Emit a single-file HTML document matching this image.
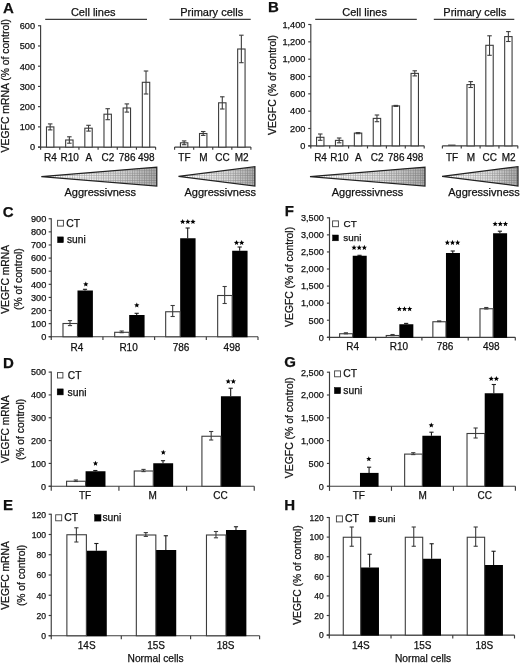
<!DOCTYPE html>
<html><head><meta charset="utf-8"><title>Figure</title>
<style>
html,body{margin:0;padding:0;background:#fff;}
body{width:520px;height:667px;overflow:hidden;font-family:"Liberation Sans",sans-serif;}
svg{display:block}
svg text{font-family:"Liberation Sans",sans-serif;fill:#111;stroke:#111;stroke-width:0.25px}
</style></head><body>
<svg width="520" height="667" viewBox="0 0 520 667">
<defs>
<linearGradient id="tg" x1="0" y1="0" x2="1" y2="0">
<stop offset="0" stop-color="#ffffff"/><stop offset="0.3" stop-color="#f6f6f6"/><stop offset="0.65" stop-color="#dcdcdc"/><stop offset="1" stop-color="#aaaaaa"/>
</linearGradient>
<pattern id="hatch" width="2.4" height="2.4" patternUnits="userSpaceOnUse">
<rect width="2.4" height="2.4" fill="none"/><path d="M0 0.3H2.4M0.3 0V2.4" stroke="#333" stroke-width="0.6" opacity="0.42"/>
</pattern>
</defs>
<rect width="520" height="667" fill="#fff"/>
<g style="opacity:0.999">
<text x="3.10" y="13.20" font-size="15" text-anchor="start" font-weight="bold">A</text>
<text x="268.00" y="12.10" font-size="15" text-anchor="start" font-weight="bold">B</text>
<text x="2.80" y="216.80" font-size="15" text-anchor="start" font-weight="bold">C</text>
<text x="284.70" y="216.10" font-size="15" text-anchor="start" font-weight="bold">F</text>
<text x="2.90" y="367.50" font-size="15" text-anchor="start" font-weight="bold">D</text>
<text x="284.30" y="367.20" font-size="15" text-anchor="start" font-weight="bold">G</text>
<text x="2.90" y="510.00" font-size="15" text-anchor="start" font-weight="bold">E</text>
<text x="284.30" y="510.10" font-size="15" text-anchor="start" font-weight="bold">H</text>
<line x1="40.60" y1="25.25" x2="40.60" y2="147.60" stroke="#3c3c3c" stroke-width="1.15"/>
<line x1="38.00" y1="147.10" x2="40.60" y2="147.10" stroke="#3c3c3c" stroke-width="1.15"/>
<text x="35.00" y="150.40" font-size="9.2" text-anchor="end" font-weight="normal">0</text>
<line x1="38.00" y1="126.88" x2="40.60" y2="126.88" stroke="#3c3c3c" stroke-width="1.15"/>
<text x="35.00" y="130.18" font-size="9.2" text-anchor="end" font-weight="normal">100</text>
<line x1="38.00" y1="106.65" x2="40.60" y2="106.65" stroke="#3c3c3c" stroke-width="1.15"/>
<text x="35.00" y="109.95" font-size="9.2" text-anchor="end" font-weight="normal">200</text>
<line x1="38.00" y1="86.43" x2="40.60" y2="86.43" stroke="#3c3c3c" stroke-width="1.15"/>
<text x="35.00" y="89.73" font-size="9.2" text-anchor="end" font-weight="normal">300</text>
<line x1="38.00" y1="66.20" x2="40.60" y2="66.20" stroke="#3c3c3c" stroke-width="1.15"/>
<text x="35.00" y="69.50" font-size="9.2" text-anchor="end" font-weight="normal">400</text>
<line x1="38.00" y1="45.97" x2="40.60" y2="45.97" stroke="#3c3c3c" stroke-width="1.15"/>
<text x="35.00" y="49.27" font-size="9.2" text-anchor="end" font-weight="normal">500</text>
<line x1="38.00" y1="25.75" x2="40.60" y2="25.75" stroke="#3c3c3c" stroke-width="1.15"/>
<text x="35.00" y="29.05" font-size="9.2" text-anchor="end" font-weight="normal">600</text>
<line x1="38.00" y1="147.10" x2="155.60" y2="147.10" stroke="#3c3c3c" stroke-width="1.15"/>
<line x1="40.60" y1="147.10" x2="40.60" y2="149.70" stroke="#3c3c3c" stroke-width="1.15"/>
<line x1="59.77" y1="147.10" x2="59.77" y2="149.70" stroke="#3c3c3c" stroke-width="1.15"/>
<line x1="78.93" y1="147.10" x2="78.93" y2="149.70" stroke="#3c3c3c" stroke-width="1.15"/>
<line x1="98.10" y1="147.10" x2="98.10" y2="149.70" stroke="#3c3c3c" stroke-width="1.15"/>
<line x1="117.27" y1="147.10" x2="117.27" y2="149.70" stroke="#3c3c3c" stroke-width="1.15"/>
<line x1="136.43" y1="147.10" x2="136.43" y2="149.70" stroke="#3c3c3c" stroke-width="1.15"/>
<line x1="155.60" y1="147.10" x2="155.60" y2="149.70" stroke="#3c3c3c" stroke-width="1.15"/>
<line x1="174.60" y1="147.10" x2="250.90" y2="147.10" stroke="#3c3c3c" stroke-width="1.15"/>
<line x1="174.60" y1="147.10" x2="174.60" y2="149.70" stroke="#3c3c3c" stroke-width="1.15"/>
<line x1="193.68" y1="147.10" x2="193.68" y2="149.70" stroke="#3c3c3c" stroke-width="1.15"/>
<line x1="212.75" y1="147.10" x2="212.75" y2="149.70" stroke="#3c3c3c" stroke-width="1.15"/>
<line x1="231.82" y1="147.10" x2="231.82" y2="149.70" stroke="#3c3c3c" stroke-width="1.15"/>
<line x1="250.90" y1="147.10" x2="250.90" y2="149.70" stroke="#3c3c3c" stroke-width="1.15"/>
<rect x="46.48" y="126.90" width="7.40" height="20.20" fill="#fff" stroke="#3c3c3c" stroke-width="1.1"/>
<line x1="50.18" y1="123.90" x2="50.18" y2="129.90" stroke="#3c3c3c" stroke-width="1.1"/>
<line x1="47.93" y1="123.90" x2="52.43" y2="123.90" stroke="#3c3c3c" stroke-width="1.1"/>
<line x1="47.93" y1="129.90" x2="52.43" y2="129.90" stroke="#3c3c3c" stroke-width="1.1"/>
<text x="50.48" y="161.10" font-size="10" text-anchor="middle" font-weight="normal">R4</text>
<rect x="65.65" y="140.00" width="7.40" height="7.10" fill="#fff" stroke="#3c3c3c" stroke-width="1.1"/>
<line x1="69.35" y1="136.80" x2="69.35" y2="143.20" stroke="#3c3c3c" stroke-width="1.1"/>
<line x1="67.10" y1="136.80" x2="71.60" y2="136.80" stroke="#3c3c3c" stroke-width="1.1"/>
<line x1="67.10" y1="143.20" x2="71.60" y2="143.20" stroke="#3c3c3c" stroke-width="1.1"/>
<text x="69.65" y="161.10" font-size="10" text-anchor="middle" font-weight="normal">R10</text>
<rect x="84.82" y="128.20" width="7.40" height="18.90" fill="#fff" stroke="#3c3c3c" stroke-width="1.1"/>
<line x1="88.52" y1="125.30" x2="88.52" y2="131.10" stroke="#3c3c3c" stroke-width="1.1"/>
<line x1="86.27" y1="125.30" x2="90.77" y2="125.30" stroke="#3c3c3c" stroke-width="1.1"/>
<line x1="86.27" y1="131.10" x2="90.77" y2="131.10" stroke="#3c3c3c" stroke-width="1.1"/>
<text x="88.82" y="161.10" font-size="10" text-anchor="middle" font-weight="normal">A</text>
<rect x="103.98" y="114.20" width="7.40" height="32.90" fill="#fff" stroke="#3c3c3c" stroke-width="1.1"/>
<line x1="107.68" y1="108.70" x2="107.68" y2="119.70" stroke="#3c3c3c" stroke-width="1.1"/>
<line x1="105.43" y1="108.70" x2="109.93" y2="108.70" stroke="#3c3c3c" stroke-width="1.1"/>
<line x1="105.43" y1="119.70" x2="109.93" y2="119.70" stroke="#3c3c3c" stroke-width="1.1"/>
<text x="107.98" y="161.10" font-size="10" text-anchor="middle" font-weight="normal">C2</text>
<rect x="123.15" y="108.00" width="7.40" height="39.10" fill="#fff" stroke="#3c3c3c" stroke-width="1.1"/>
<line x1="126.85" y1="103.90" x2="126.85" y2="112.10" stroke="#3c3c3c" stroke-width="1.1"/>
<line x1="124.60" y1="103.90" x2="129.10" y2="103.90" stroke="#3c3c3c" stroke-width="1.1"/>
<line x1="124.60" y1="112.10" x2="129.10" y2="112.10" stroke="#3c3c3c" stroke-width="1.1"/>
<text x="127.15" y="161.10" font-size="10" text-anchor="middle" font-weight="normal">786</text>
<rect x="142.32" y="82.30" width="7.40" height="64.80" fill="#fff" stroke="#3c3c3c" stroke-width="1.1"/>
<line x1="146.02" y1="71.00" x2="146.02" y2="94.00" stroke="#3c3c3c" stroke-width="1.1"/>
<line x1="143.77" y1="71.00" x2="148.27" y2="71.00" stroke="#3c3c3c" stroke-width="1.1"/>
<line x1="143.77" y1="94.00" x2="148.27" y2="94.00" stroke="#3c3c3c" stroke-width="1.1"/>
<text x="146.32" y="161.10" font-size="10" text-anchor="middle" font-weight="normal">498</text>
<rect x="180.44" y="142.80" width="7.40" height="4.30" fill="#fff" stroke="#3c3c3c" stroke-width="1.1"/>
<line x1="184.14" y1="140.90" x2="184.14" y2="144.70" stroke="#3c3c3c" stroke-width="1.1"/>
<line x1="181.89" y1="140.90" x2="186.39" y2="140.90" stroke="#3c3c3c" stroke-width="1.1"/>
<line x1="181.89" y1="144.70" x2="186.39" y2="144.70" stroke="#3c3c3c" stroke-width="1.1"/>
<text x="184.44" y="161.10" font-size="10" text-anchor="middle" font-weight="normal">TF</text>
<rect x="199.51" y="133.50" width="7.40" height="13.60" fill="#fff" stroke="#3c3c3c" stroke-width="1.1"/>
<line x1="203.21" y1="131.50" x2="203.21" y2="135.40" stroke="#3c3c3c" stroke-width="1.1"/>
<line x1="200.96" y1="131.50" x2="205.46" y2="131.50" stroke="#3c3c3c" stroke-width="1.1"/>
<line x1="200.96" y1="135.40" x2="205.46" y2="135.40" stroke="#3c3c3c" stroke-width="1.1"/>
<text x="203.51" y="161.10" font-size="10" text-anchor="middle" font-weight="normal">M</text>
<rect x="218.59" y="102.80" width="7.40" height="44.30" fill="#fff" stroke="#3c3c3c" stroke-width="1.1"/>
<line x1="222.29" y1="96.80" x2="222.29" y2="109.00" stroke="#3c3c3c" stroke-width="1.1"/>
<line x1="220.04" y1="96.80" x2="224.54" y2="96.80" stroke="#3c3c3c" stroke-width="1.1"/>
<line x1="220.04" y1="109.00" x2="224.54" y2="109.00" stroke="#3c3c3c" stroke-width="1.1"/>
<text x="222.59" y="161.10" font-size="10" text-anchor="middle" font-weight="normal">CC</text>
<rect x="237.66" y="49.00" width="7.40" height="98.10" fill="#fff" stroke="#3c3c3c" stroke-width="1.1"/>
<line x1="241.36" y1="35.20" x2="241.36" y2="62.70" stroke="#3c3c3c" stroke-width="1.1"/>
<line x1="239.11" y1="35.20" x2="243.61" y2="35.20" stroke="#3c3c3c" stroke-width="1.1"/>
<line x1="239.11" y1="62.70" x2="243.61" y2="62.70" stroke="#3c3c3c" stroke-width="1.1"/>
<text x="241.66" y="161.10" font-size="10" text-anchor="middle" font-weight="normal">M2</text>
<line x1="45.20" y1="19.40" x2="147.00" y2="19.40" stroke="#3c3c3c" stroke-width="1.15"/>
<text x="93.20" y="15.60" font-size="11" text-anchor="middle" font-weight="normal">Cell lines</text>
<line x1="169.50" y1="19.40" x2="250.70" y2="19.40" stroke="#3c3c3c" stroke-width="1.15"/>
<text x="211.70" y="15.60" font-size="11" text-anchor="middle" font-weight="normal">Primary cells</text>
<text x="9.30" y="85.70" font-size="10.4" text-anchor="middle" font-weight="normal" transform="rotate(-90 9.30 85.70)">VEGFC mRNA (% of control)</text>
<polygon points="41.3,176.6 156.8,167.1 156.8,186.1" fill="url(#tg)" stroke="none"/>
<polygon points="41.3,176.6 156.8,167.1 156.8,186.1" fill="url(#hatch)" stroke="#222" stroke-width="1.2" stroke-linejoin="miter"/>
<polygon points="178.5,176.4 254.9,166.70000000000002 254.9,186.1" fill="url(#tg)" stroke="none"/>
<polygon points="178.5,176.4 254.9,166.70000000000002 254.9,186.1" fill="url(#hatch)" stroke="#222" stroke-width="1.2" stroke-linejoin="miter"/>
<text x="100.20" y="195.70" font-size="11" text-anchor="middle" font-weight="normal">Aggressivness</text>
<text x="220.30" y="195.70" font-size="11" text-anchor="middle" font-weight="normal">Aggressivness</text>
<line x1="310.80" y1="24.00" x2="310.80" y2="146.35" stroke="#3c3c3c" stroke-width="1.15"/>
<line x1="308.20" y1="145.85" x2="310.80" y2="145.85" stroke="#3c3c3c" stroke-width="1.15"/>
<text x="305.40" y="149.15" font-size="9.2" text-anchor="end" font-weight="normal">0</text>
<line x1="308.20" y1="128.51" x2="310.80" y2="128.51" stroke="#3c3c3c" stroke-width="1.15"/>
<text x="305.40" y="131.81" font-size="9.2" text-anchor="end" font-weight="normal">200</text>
<line x1="308.20" y1="111.18" x2="310.80" y2="111.18" stroke="#3c3c3c" stroke-width="1.15"/>
<text x="305.40" y="114.48" font-size="9.2" text-anchor="end" font-weight="normal">400</text>
<line x1="308.20" y1="93.84" x2="310.80" y2="93.84" stroke="#3c3c3c" stroke-width="1.15"/>
<text x="305.40" y="97.14" font-size="9.2" text-anchor="end" font-weight="normal">600</text>
<line x1="308.20" y1="76.51" x2="310.80" y2="76.51" stroke="#3c3c3c" stroke-width="1.15"/>
<text x="305.40" y="79.81" font-size="9.2" text-anchor="end" font-weight="normal">800</text>
<line x1="308.20" y1="59.17" x2="310.80" y2="59.17" stroke="#3c3c3c" stroke-width="1.15"/>
<text x="305.40" y="62.47" font-size="9.2" text-anchor="end" font-weight="normal">1,000</text>
<line x1="308.20" y1="41.84" x2="310.80" y2="41.84" stroke="#3c3c3c" stroke-width="1.15"/>
<text x="305.40" y="45.14" font-size="9.2" text-anchor="end" font-weight="normal">1,200</text>
<line x1="308.20" y1="24.50" x2="310.80" y2="24.50" stroke="#3c3c3c" stroke-width="1.15"/>
<text x="305.40" y="27.80" font-size="9.2" text-anchor="end" font-weight="normal">1,400</text>
<line x1="308.20" y1="145.85" x2="424.20" y2="145.85" stroke="#3c3c3c" stroke-width="1.15"/>
<line x1="310.80" y1="145.85" x2="310.80" y2="148.45" stroke="#3c3c3c" stroke-width="1.15"/>
<line x1="329.70" y1="145.85" x2="329.70" y2="148.45" stroke="#3c3c3c" stroke-width="1.15"/>
<line x1="348.60" y1="145.85" x2="348.60" y2="148.45" stroke="#3c3c3c" stroke-width="1.15"/>
<line x1="367.50" y1="145.85" x2="367.50" y2="148.45" stroke="#3c3c3c" stroke-width="1.15"/>
<line x1="386.40" y1="145.85" x2="386.40" y2="148.45" stroke="#3c3c3c" stroke-width="1.15"/>
<line x1="405.30" y1="145.85" x2="405.30" y2="148.45" stroke="#3c3c3c" stroke-width="1.15"/>
<line x1="424.20" y1="145.85" x2="424.20" y2="148.45" stroke="#3c3c3c" stroke-width="1.15"/>
<line x1="442.40" y1="145.85" x2="517.80" y2="145.85" stroke="#3c3c3c" stroke-width="1.15"/>
<line x1="442.40" y1="145.85" x2="442.40" y2="148.45" stroke="#3c3c3c" stroke-width="1.15"/>
<line x1="461.25" y1="145.85" x2="461.25" y2="148.45" stroke="#3c3c3c" stroke-width="1.15"/>
<line x1="480.10" y1="145.85" x2="480.10" y2="148.45" stroke="#3c3c3c" stroke-width="1.15"/>
<line x1="498.95" y1="145.85" x2="498.95" y2="148.45" stroke="#3c3c3c" stroke-width="1.15"/>
<line x1="517.80" y1="145.85" x2="517.80" y2="148.45" stroke="#3c3c3c" stroke-width="1.15"/>
<rect x="316.55" y="137.30" width="7.40" height="8.55" fill="#fff" stroke="#3c3c3c" stroke-width="1.1"/>
<line x1="320.25" y1="134.00" x2="320.25" y2="140.30" stroke="#3c3c3c" stroke-width="1.1"/>
<line x1="318.00" y1="134.00" x2="322.50" y2="134.00" stroke="#3c3c3c" stroke-width="1.1"/>
<line x1="318.00" y1="140.30" x2="322.50" y2="140.30" stroke="#3c3c3c" stroke-width="1.1"/>
<text x="320.55" y="161.10" font-size="10" text-anchor="middle" font-weight="normal">R4</text>
<rect x="335.45" y="140.40" width="7.40" height="5.45" fill="#fff" stroke="#3c3c3c" stroke-width="1.1"/>
<line x1="339.15" y1="138.00" x2="339.15" y2="142.80" stroke="#3c3c3c" stroke-width="1.1"/>
<line x1="336.90" y1="138.00" x2="341.40" y2="138.00" stroke="#3c3c3c" stroke-width="1.1"/>
<line x1="336.90" y1="142.80" x2="341.40" y2="142.80" stroke="#3c3c3c" stroke-width="1.1"/>
<text x="339.45" y="161.10" font-size="10" text-anchor="middle" font-weight="normal">R10</text>
<rect x="354.35" y="133.10" width="7.40" height="12.75" fill="#fff" stroke="#3c3c3c" stroke-width="1.1"/>
<line x1="358.05" y1="132.60" x2="358.05" y2="133.70" stroke="#3c3c3c" stroke-width="1.1"/>
<line x1="355.80" y1="132.60" x2="360.30" y2="132.60" stroke="#3c3c3c" stroke-width="1.1"/>
<line x1="355.80" y1="133.70" x2="360.30" y2="133.70" stroke="#3c3c3c" stroke-width="1.1"/>
<text x="358.35" y="161.10" font-size="10" text-anchor="middle" font-weight="normal">A</text>
<rect x="373.25" y="118.40" width="7.40" height="27.45" fill="#fff" stroke="#3c3c3c" stroke-width="1.1"/>
<line x1="376.95" y1="115.00" x2="376.95" y2="121.70" stroke="#3c3c3c" stroke-width="1.1"/>
<line x1="374.70" y1="115.00" x2="379.20" y2="115.00" stroke="#3c3c3c" stroke-width="1.1"/>
<line x1="374.70" y1="121.70" x2="379.20" y2="121.70" stroke="#3c3c3c" stroke-width="1.1"/>
<text x="377.25" y="161.10" font-size="10" text-anchor="middle" font-weight="normal">C2</text>
<rect x="392.15" y="105.90" width="7.40" height="39.95" fill="#fff" stroke="#3c3c3c" stroke-width="1.1"/>
<line x1="395.85" y1="105.40" x2="395.85" y2="106.40" stroke="#3c3c3c" stroke-width="1.1"/>
<line x1="393.60" y1="105.40" x2="398.10" y2="105.40" stroke="#3c3c3c" stroke-width="1.1"/>
<line x1="393.60" y1="106.40" x2="398.10" y2="106.40" stroke="#3c3c3c" stroke-width="1.1"/>
<text x="396.15" y="161.10" font-size="10" text-anchor="middle" font-weight="normal">786</text>
<rect x="411.05" y="73.40" width="7.40" height="72.45" fill="#fff" stroke="#3c3c3c" stroke-width="1.1"/>
<line x1="414.75" y1="70.80" x2="414.75" y2="75.90" stroke="#3c3c3c" stroke-width="1.1"/>
<line x1="412.50" y1="70.80" x2="417.00" y2="70.80" stroke="#3c3c3c" stroke-width="1.1"/>
<line x1="412.50" y1="75.90" x2="417.00" y2="75.90" stroke="#3c3c3c" stroke-width="1.1"/>
<text x="415.05" y="161.10" font-size="10" text-anchor="middle" font-weight="normal">498</text>
<line x1="448.12" y1="145.15" x2="455.52" y2="145.15" stroke="#3c3c3c" stroke-width="1.15"/>
<text x="452.12" y="161.10" font-size="10" text-anchor="middle" font-weight="normal">TF</text>
<rect x="466.97" y="84.60" width="7.40" height="61.25" fill="#fff" stroke="#3c3c3c" stroke-width="1.1"/>
<line x1="470.67" y1="81.60" x2="470.67" y2="87.50" stroke="#3c3c3c" stroke-width="1.1"/>
<line x1="468.42" y1="81.60" x2="472.92" y2="81.60" stroke="#3c3c3c" stroke-width="1.1"/>
<line x1="468.42" y1="87.50" x2="472.92" y2="87.50" stroke="#3c3c3c" stroke-width="1.1"/>
<text x="470.97" y="161.10" font-size="10" text-anchor="middle" font-weight="normal">M</text>
<rect x="485.82" y="45.30" width="7.40" height="100.55" fill="#fff" stroke="#3c3c3c" stroke-width="1.1"/>
<line x1="489.52" y1="35.80" x2="489.52" y2="55.30" stroke="#3c3c3c" stroke-width="1.1"/>
<line x1="487.27" y1="35.80" x2="491.77" y2="35.80" stroke="#3c3c3c" stroke-width="1.1"/>
<line x1="487.27" y1="55.30" x2="491.77" y2="55.30" stroke="#3c3c3c" stroke-width="1.1"/>
<text x="489.82" y="161.10" font-size="10" text-anchor="middle" font-weight="normal">CC</text>
<rect x="504.67" y="36.60" width="7.40" height="109.25" fill="#fff" stroke="#3c3c3c" stroke-width="1.1"/>
<line x1="508.37" y1="31.60" x2="508.37" y2="41.50" stroke="#3c3c3c" stroke-width="1.1"/>
<line x1="506.12" y1="31.60" x2="510.62" y2="31.60" stroke="#3c3c3c" stroke-width="1.1"/>
<line x1="506.12" y1="41.50" x2="510.62" y2="41.50" stroke="#3c3c3c" stroke-width="1.1"/>
<text x="508.67" y="161.10" font-size="10" text-anchor="middle" font-weight="normal">M2</text>
<line x1="315.20" y1="19.40" x2="416.80" y2="19.40" stroke="#3c3c3c" stroke-width="1.15"/>
<text x="364.60" y="15.60" font-size="11" text-anchor="middle" font-weight="normal">Cell lines</text>
<line x1="433.80" y1="19.40" x2="514.30" y2="19.40" stroke="#3c3c3c" stroke-width="1.15"/>
<text x="474.80" y="15.60" font-size="11" text-anchor="middle" font-weight="normal">Primary cells</text>
<text x="275.60" y="85.00" font-size="10.35" text-anchor="middle" font-weight="normal" transform="rotate(-90 275.60 85.00)">VEGFC (% of control)</text>
<polygon points="310,176.6 425,167.1 425,186.1" fill="url(#tg)" stroke="none"/>
<polygon points="310,176.6 425,167.1 425,186.1" fill="url(#hatch)" stroke="#222" stroke-width="1.2" stroke-linejoin="miter"/>
<polygon points="442.1,176.3 518,166.60000000000002 518,186.0" fill="url(#tg)" stroke="none"/>
<polygon points="442.1,176.3 518,166.60000000000002 518,186.0" fill="url(#hatch)" stroke="#222" stroke-width="1.2" stroke-linejoin="miter"/>
<text x="367.50" y="195.70" font-size="11" text-anchor="middle" font-weight="normal">Aggressivness</text>
<text x="484.00" y="195.70" font-size="11" text-anchor="middle" font-weight="normal">Aggressivness</text>
<line x1="51.25" y1="218.25" x2="51.25" y2="337.25" stroke="#3c3c3c" stroke-width="1.15"/>
<line x1="48.65" y1="336.75" x2="51.25" y2="336.75" stroke="#3c3c3c" stroke-width="1.15"/>
<text x="46.30" y="340.05" font-size="9.2" text-anchor="end" font-weight="normal">0</text>
<line x1="48.65" y1="323.64" x2="51.25" y2="323.64" stroke="#3c3c3c" stroke-width="1.15"/>
<text x="46.30" y="326.94" font-size="9.2" text-anchor="end" font-weight="normal">100</text>
<line x1="48.65" y1="310.53" x2="51.25" y2="310.53" stroke="#3c3c3c" stroke-width="1.15"/>
<text x="46.30" y="313.83" font-size="9.2" text-anchor="end" font-weight="normal">200</text>
<line x1="48.65" y1="297.42" x2="51.25" y2="297.42" stroke="#3c3c3c" stroke-width="1.15"/>
<text x="46.30" y="300.72" font-size="9.2" text-anchor="end" font-weight="normal">300</text>
<line x1="48.65" y1="284.31" x2="51.25" y2="284.31" stroke="#3c3c3c" stroke-width="1.15"/>
<text x="46.30" y="287.61" font-size="9.2" text-anchor="end" font-weight="normal">400</text>
<line x1="48.65" y1="271.19" x2="51.25" y2="271.19" stroke="#3c3c3c" stroke-width="1.15"/>
<text x="46.30" y="274.49" font-size="9.2" text-anchor="end" font-weight="normal">500</text>
<line x1="48.65" y1="258.08" x2="51.25" y2="258.08" stroke="#3c3c3c" stroke-width="1.15"/>
<text x="46.30" y="261.38" font-size="9.2" text-anchor="end" font-weight="normal">600</text>
<line x1="48.65" y1="244.97" x2="51.25" y2="244.97" stroke="#3c3c3c" stroke-width="1.15"/>
<text x="46.30" y="248.27" font-size="9.2" text-anchor="end" font-weight="normal">700</text>
<line x1="48.65" y1="231.86" x2="51.25" y2="231.86" stroke="#3c3c3c" stroke-width="1.15"/>
<text x="46.30" y="235.16" font-size="9.2" text-anchor="end" font-weight="normal">800</text>
<line x1="48.65" y1="218.75" x2="51.25" y2="218.75" stroke="#3c3c3c" stroke-width="1.15"/>
<text x="46.30" y="222.05" font-size="9.2" text-anchor="end" font-weight="normal">900</text>
<line x1="48.65" y1="336.75" x2="258.00" y2="336.75" stroke="#3c3c3c" stroke-width="1.15"/>
<line x1="51.25" y1="336.75" x2="51.25" y2="339.95" stroke="#3c3c3c" stroke-width="1.15"/>
<line x1="102.94" y1="336.75" x2="102.94" y2="339.95" stroke="#3c3c3c" stroke-width="1.15"/>
<line x1="154.62" y1="336.75" x2="154.62" y2="339.95" stroke="#3c3c3c" stroke-width="1.15"/>
<line x1="206.31" y1="336.75" x2="206.31" y2="339.95" stroke="#3c3c3c" stroke-width="1.15"/>
<line x1="258.00" y1="336.75" x2="258.00" y2="339.95" stroke="#3c3c3c" stroke-width="1.15"/>
<line x1="84.99" y1="289.30" x2="84.99" y2="290.50" stroke="#1c1c1c" stroke-width="1.1"/>
<line x1="82.89" y1="289.30" x2="87.09" y2="289.30" stroke="#1c1c1c" stroke-width="1.1"/>
<rect x="77.49" y="290.50" width="15.40" height="46.75" fill="#000"/>
<rect x="62.99" y="323.50" width="14.50" height="13.25" fill="#fff" stroke="#3c3c3c" stroke-width="1.1"/>
<line x1="69.99" y1="320.60" x2="69.99" y2="325.60" stroke="#3c3c3c" stroke-width="1.1"/>
<line x1="67.89" y1="320.60" x2="72.09" y2="320.60" stroke="#3c3c3c" stroke-width="1.1"/>
<line x1="67.89" y1="325.60" x2="72.09" y2="325.60" stroke="#3c3c3c" stroke-width="1.1"/>
<text x="76.89" y="350.60" font-size="10" text-anchor="middle" font-weight="normal">R4</text>
<line x1="136.68" y1="313.30" x2="136.68" y2="315.00" stroke="#1c1c1c" stroke-width="1.1"/>
<line x1="134.58" y1="313.30" x2="138.78" y2="313.30" stroke="#1c1c1c" stroke-width="1.1"/>
<rect x="129.18" y="315.00" width="15.40" height="22.25" fill="#000"/>
<rect x="114.68" y="332.30" width="14.50" height="4.45" fill="#fff" stroke="#3c3c3c" stroke-width="1.1"/>
<line x1="121.68" y1="331.00" x2="121.68" y2="332.70" stroke="#3c3c3c" stroke-width="1.1"/>
<line x1="119.58" y1="331.00" x2="123.78" y2="331.00" stroke="#3c3c3c" stroke-width="1.1"/>
<line x1="119.58" y1="332.70" x2="123.78" y2="332.70" stroke="#3c3c3c" stroke-width="1.1"/>
<text x="128.58" y="350.60" font-size="10" text-anchor="middle" font-weight="normal">R10</text>
<line x1="187.67" y1="228.00" x2="187.67" y2="238.25" stroke="#1c1c1c" stroke-width="1.1"/>
<line x1="185.57" y1="228.00" x2="189.77" y2="228.00" stroke="#1c1c1c" stroke-width="1.1"/>
<rect x="180.17" y="238.25" width="15.40" height="99.00" fill="#000"/>
<rect x="165.67" y="311.75" width="14.50" height="25.00" fill="#fff" stroke="#3c3c3c" stroke-width="1.1"/>
<line x1="172.67" y1="305.50" x2="172.67" y2="316.50" stroke="#3c3c3c" stroke-width="1.1"/>
<line x1="170.57" y1="305.50" x2="174.77" y2="305.50" stroke="#3c3c3c" stroke-width="1.1"/>
<line x1="170.57" y1="316.50" x2="174.77" y2="316.50" stroke="#3c3c3c" stroke-width="1.1"/>
<text x="180.97" y="350.60" font-size="10" text-anchor="middle" font-weight="normal">786</text>
<line x1="239.66" y1="247.00" x2="239.66" y2="250.75" stroke="#1c1c1c" stroke-width="1.1"/>
<line x1="237.56" y1="247.00" x2="241.76" y2="247.00" stroke="#1c1c1c" stroke-width="1.1"/>
<rect x="232.16" y="250.75" width="15.40" height="86.50" fill="#000"/>
<rect x="217.66" y="295.50" width="14.50" height="41.25" fill="#fff" stroke="#3c3c3c" stroke-width="1.1"/>
<line x1="224.66" y1="286.50" x2="224.66" y2="303.50" stroke="#3c3c3c" stroke-width="1.1"/>
<line x1="222.56" y1="286.50" x2="226.76" y2="286.50" stroke="#3c3c3c" stroke-width="1.1"/>
<line x1="222.56" y1="303.50" x2="226.76" y2="303.50" stroke="#3c3c3c" stroke-width="1.1"/>
<text x="231.96" y="350.60" font-size="10" text-anchor="middle" font-weight="normal">498</text>
<polygon points="85.80,281.45 86.53,283.24 88.46,283.38 86.99,284.64 87.45,286.52 85.80,285.50 84.15,286.52 84.61,284.64 83.14,283.38 85.07,283.24" fill="#000"/>
<polygon points="136.80,302.45 137.53,304.24 139.46,304.38 137.99,305.64 138.45,307.52 136.80,306.50 135.15,307.52 135.61,305.64 134.14,304.38 136.07,304.24" fill="#000"/>
<polygon points="182.65,219.00 183.38,220.79 185.31,220.93 183.84,222.19 184.30,224.07 182.65,223.05 181.00,224.07 181.46,222.19 179.99,220.93 181.92,220.79" fill="#000"/>
<polygon points="187.80,219.00 188.53,220.79 190.46,220.93 188.99,222.19 189.45,224.07 187.80,223.05 186.15,224.07 186.61,222.19 185.14,220.93 187.07,220.79" fill="#000"/>
<polygon points="192.95,219.00 193.68,220.79 195.61,220.93 194.14,222.19 194.60,224.07 192.95,223.05 191.30,224.07 191.76,222.19 190.29,220.93 192.22,220.79" fill="#000"/>
<polygon points="236.53,240.05 237.26,241.84 239.19,241.98 237.71,243.24 238.17,245.12 236.53,244.10 234.88,245.12 235.34,243.24 233.86,241.98 235.79,241.84" fill="#000"/>
<polygon points="241.67,240.05 242.41,241.84 244.34,241.98 242.86,243.24 243.32,245.12 241.67,244.10 240.03,245.12 240.49,243.24 239.01,241.98 240.94,241.84" fill="#000"/>
<rect x="57.60" y="220.30" width="5.80" height="5.80" fill="#fff" stroke="#3c3c3c" stroke-width="0.9"/>
<text x="66.30" y="227.20" font-size="10.4" text-anchor="start" font-weight="normal">CT</text>
<rect x="57.60" y="236.90" width="5.80" height="5.80" fill="#000" stroke="#000" stroke-width="0.5"/>
<text x="67.00" y="243.20" font-size="10.2" text-anchor="start" font-weight="normal">suni</text>
<text x="9.00" y="279.30" font-size="10.35" text-anchor="middle" font-weight="normal" transform="rotate(-90 9.00 279.30)">VEGFC mRNA</text>
<text x="22.40" y="279.20" font-size="10.4" text-anchor="middle" font-weight="normal" transform="rotate(-90 22.40 279.20)">(% of control)</text>
<line x1="329.50" y1="217.30" x2="329.50" y2="337.80" stroke="#3c3c3c" stroke-width="1.15"/>
<line x1="326.90" y1="337.30" x2="329.50" y2="337.30" stroke="#3c3c3c" stroke-width="1.15"/>
<text x="323.80" y="340.60" font-size="9.1" text-anchor="end" font-weight="normal">0</text>
<line x1="326.90" y1="320.23" x2="329.50" y2="320.23" stroke="#3c3c3c" stroke-width="1.15"/>
<text x="323.80" y="323.53" font-size="9.1" text-anchor="end" font-weight="normal">500</text>
<line x1="326.90" y1="303.16" x2="329.50" y2="303.16" stroke="#3c3c3c" stroke-width="1.15"/>
<text x="323.80" y="306.46" font-size="9.1" text-anchor="end" font-weight="normal">1,000</text>
<line x1="326.90" y1="286.09" x2="329.50" y2="286.09" stroke="#3c3c3c" stroke-width="1.15"/>
<text x="323.80" y="289.39" font-size="9.1" text-anchor="end" font-weight="normal">1,500</text>
<line x1="326.90" y1="269.01" x2="329.50" y2="269.01" stroke="#3c3c3c" stroke-width="1.15"/>
<text x="323.80" y="272.31" font-size="9.1" text-anchor="end" font-weight="normal">2,000</text>
<line x1="326.90" y1="251.94" x2="329.50" y2="251.94" stroke="#3c3c3c" stroke-width="1.15"/>
<text x="323.80" y="255.24" font-size="9.1" text-anchor="end" font-weight="normal">2,500</text>
<line x1="326.90" y1="234.87" x2="329.50" y2="234.87" stroke="#3c3c3c" stroke-width="1.15"/>
<text x="323.80" y="238.17" font-size="9.1" text-anchor="end" font-weight="normal">3,000</text>
<line x1="326.90" y1="217.80" x2="329.50" y2="217.80" stroke="#3c3c3c" stroke-width="1.15"/>
<text x="323.80" y="221.10" font-size="9.1" text-anchor="end" font-weight="normal">3,500</text>
<line x1="326.90" y1="337.30" x2="515.30" y2="337.30" stroke="#3c3c3c" stroke-width="1.15"/>
<line x1="329.50" y1="337.30" x2="329.50" y2="340.50" stroke="#3c3c3c" stroke-width="1.15"/>
<line x1="375.70" y1="337.30" x2="375.70" y2="340.50" stroke="#3c3c3c" stroke-width="1.15"/>
<line x1="421.90" y1="337.30" x2="421.90" y2="340.50" stroke="#3c3c3c" stroke-width="1.15"/>
<line x1="468.20" y1="337.30" x2="468.20" y2="340.50" stroke="#3c3c3c" stroke-width="1.15"/>
<line x1="515.30" y1="337.30" x2="515.30" y2="340.50" stroke="#3c3c3c" stroke-width="1.15"/>
<line x1="359.51" y1="255.30" x2="359.51" y2="255.75" stroke="#1c1c1c" stroke-width="1.1"/>
<line x1="357.41" y1="255.30" x2="361.61" y2="255.30" stroke="#1c1c1c" stroke-width="1.1"/>
<rect x="352.71" y="255.75" width="14.00" height="82.05" fill="#000"/>
<rect x="339.61" y="333.75" width="13.10" height="3.55" fill="#fff" stroke="#3c3c3c" stroke-width="1.1"/>
<line x1="345.91" y1="332.80" x2="345.91" y2="333.80" stroke="#3c3c3c" stroke-width="1.1"/>
<line x1="343.81" y1="332.80" x2="348.01" y2="332.80" stroke="#3c3c3c" stroke-width="1.1"/>
<line x1="343.81" y1="333.80" x2="348.01" y2="333.80" stroke="#3c3c3c" stroke-width="1.1"/>
<text x="352.61" y="350.00" font-size="10" text-anchor="middle" font-weight="normal">R4</text>
<line x1="406.14" y1="323.40" x2="406.14" y2="324.25" stroke="#1c1c1c" stroke-width="1.1"/>
<line x1="404.04" y1="323.40" x2="408.24" y2="323.40" stroke="#1c1c1c" stroke-width="1.1"/>
<rect x="399.34" y="324.25" width="14.00" height="13.55" fill="#000"/>
<rect x="386.24" y="335.50" width="13.10" height="1.80" fill="#fff" stroke="#3c3c3c" stroke-width="1.1"/>
<line x1="392.54" y1="334.50" x2="392.54" y2="335.60" stroke="#3c3c3c" stroke-width="1.1"/>
<line x1="390.44" y1="334.50" x2="394.64" y2="334.50" stroke="#3c3c3c" stroke-width="1.1"/>
<line x1="390.44" y1="335.60" x2="394.64" y2="335.60" stroke="#3c3c3c" stroke-width="1.1"/>
<text x="398.84" y="350.00" font-size="10" text-anchor="middle" font-weight="normal">R10</text>
<line x1="452.76" y1="251.00" x2="452.76" y2="253.00" stroke="#1c1c1c" stroke-width="1.1"/>
<line x1="450.66" y1="251.00" x2="454.86" y2="251.00" stroke="#1c1c1c" stroke-width="1.1"/>
<rect x="445.96" y="253.00" width="14.00" height="84.80" fill="#000"/>
<rect x="432.86" y="321.75" width="13.10" height="15.55" fill="#fff" stroke="#3c3c3c" stroke-width="1.1"/>
<line x1="439.16" y1="320.90" x2="439.16" y2="321.60" stroke="#3c3c3c" stroke-width="1.1"/>
<line x1="437.06" y1="320.90" x2="441.26" y2="320.90" stroke="#3c3c3c" stroke-width="1.1"/>
<line x1="437.06" y1="321.60" x2="441.26" y2="321.60" stroke="#3c3c3c" stroke-width="1.1"/>
<text x="445.06" y="350.00" font-size="10" text-anchor="middle" font-weight="normal">786</text>
<line x1="499.89" y1="231.20" x2="499.89" y2="233.25" stroke="#1c1c1c" stroke-width="1.1"/>
<line x1="497.79" y1="231.20" x2="501.99" y2="231.20" stroke="#1c1c1c" stroke-width="1.1"/>
<rect x="493.09" y="233.25" width="14.00" height="104.55" fill="#000"/>
<rect x="479.99" y="308.75" width="13.10" height="28.55" fill="#fff" stroke="#3c3c3c" stroke-width="1.1"/>
<line x1="486.29" y1="307.50" x2="486.29" y2="309.00" stroke="#3c3c3c" stroke-width="1.1"/>
<line x1="484.19" y1="307.50" x2="488.39" y2="307.50" stroke="#3c3c3c" stroke-width="1.1"/>
<line x1="484.19" y1="309.00" x2="488.39" y2="309.00" stroke="#3c3c3c" stroke-width="1.1"/>
<text x="491.29" y="350.00" font-size="10" text-anchor="middle" font-weight="normal">498</text>
<polygon points="354.05,244.85 354.78,246.64 356.71,246.78 355.24,248.04 355.70,249.92 354.05,248.90 352.40,249.92 352.86,248.04 351.39,246.78 353.32,246.64" fill="#000"/>
<polygon points="359.20,244.85 359.93,246.64 361.86,246.78 360.39,248.04 360.85,249.92 359.20,248.90 357.55,249.92 358.01,248.04 356.54,246.78 358.47,246.64" fill="#000"/>
<polygon points="364.35,244.85 365.08,246.64 367.01,246.78 365.54,248.04 366.00,249.92 364.35,248.90 362.70,249.92 363.16,248.04 361.69,246.78 363.62,246.64" fill="#000"/>
<polygon points="399.35,306.15 400.08,307.94 402.01,308.08 400.54,309.34 401.00,311.22 399.35,310.20 397.70,311.22 398.16,309.34 396.69,308.08 398.62,307.94" fill="#000"/>
<polygon points="404.50,306.15 405.23,307.94 407.16,308.08 405.69,309.34 406.15,311.22 404.50,310.20 402.85,311.22 403.31,309.34 401.84,308.08 403.77,307.94" fill="#000"/>
<polygon points="409.65,306.15 410.38,307.94 412.31,308.08 410.84,309.34 411.30,311.22 409.65,310.20 408.00,311.22 408.46,309.34 406.99,308.08 408.92,307.94" fill="#000"/>
<polygon points="447.35,239.85 448.08,241.64 450.01,241.78 448.54,243.04 449.00,244.92 447.35,243.90 445.70,244.92 446.16,243.04 444.69,241.78 446.62,241.64" fill="#000"/>
<polygon points="452.50,239.85 453.23,241.64 455.16,241.78 453.69,243.04 454.15,244.92 452.50,243.90 450.85,244.92 451.31,243.04 449.84,241.78 451.77,241.64" fill="#000"/>
<polygon points="457.65,239.85 458.38,241.64 460.31,241.78 458.84,243.04 459.30,244.92 457.65,243.90 456.00,244.92 456.46,243.04 454.99,241.78 456.92,241.64" fill="#000"/>
<polygon points="495.15,221.15 495.88,222.94 497.81,223.08 496.34,224.34 496.80,226.22 495.15,225.20 493.50,226.22 493.96,224.34 492.49,223.08 494.42,222.94" fill="#000"/>
<polygon points="500.30,221.15 501.03,222.94 502.96,223.08 501.49,224.34 501.95,226.22 500.30,225.20 498.65,226.22 499.11,224.34 497.64,223.08 499.57,222.94" fill="#000"/>
<polygon points="505.45,221.15 506.18,222.94 508.11,223.08 506.64,224.34 507.10,226.22 505.45,225.20 503.80,226.22 504.26,224.34 502.79,223.08 504.72,222.94" fill="#000"/>
<rect x="332.60" y="220.90" width="5.80" height="5.80" fill="#fff" stroke="#3c3c3c" stroke-width="0.9"/>
<text x="343.60" y="227.20" font-size="9.9" text-anchor="start" font-weight="normal">CT</text>
<rect x="332.60" y="235.00" width="5.80" height="5.80" fill="#000" stroke="#000" stroke-width="0.5"/>
<text x="343.30" y="241.00" font-size="9.9" text-anchor="start" font-weight="normal">suni</text>
<text x="292.60" y="276.90" font-size="10.35" text-anchor="middle" font-weight="normal" transform="rotate(-90 292.60 276.90)">VEGFC (% of control)</text>
<line x1="51.25" y1="371.60" x2="51.25" y2="486.75" stroke="#3c3c3c" stroke-width="1.15"/>
<line x1="48.65" y1="486.25" x2="51.25" y2="486.25" stroke="#3c3c3c" stroke-width="1.15"/>
<text x="46.00" y="489.55" font-size="9.0" text-anchor="end" font-weight="normal">0</text>
<line x1="48.65" y1="463.42" x2="51.25" y2="463.42" stroke="#3c3c3c" stroke-width="1.15"/>
<text x="46.00" y="466.72" font-size="9.0" text-anchor="end" font-weight="normal">100</text>
<line x1="48.65" y1="440.59" x2="51.25" y2="440.59" stroke="#3c3c3c" stroke-width="1.15"/>
<text x="46.00" y="443.89" font-size="9.0" text-anchor="end" font-weight="normal">200</text>
<line x1="48.65" y1="417.76" x2="51.25" y2="417.76" stroke="#3c3c3c" stroke-width="1.15"/>
<text x="46.00" y="421.06" font-size="9.0" text-anchor="end" font-weight="normal">300</text>
<line x1="48.65" y1="394.93" x2="51.25" y2="394.93" stroke="#3c3c3c" stroke-width="1.15"/>
<text x="46.00" y="398.23" font-size="9.0" text-anchor="end" font-weight="normal">400</text>
<line x1="48.65" y1="372.10" x2="51.25" y2="372.10" stroke="#3c3c3c" stroke-width="1.15"/>
<text x="46.00" y="375.40" font-size="9.0" text-anchor="end" font-weight="normal">500</text>
<line x1="48.65" y1="486.25" x2="254.25" y2="486.25" stroke="#3c3c3c" stroke-width="1.15"/>
<line x1="51.25" y1="486.25" x2="51.25" y2="490.85" stroke="#3c3c3c" stroke-width="1.15"/>
<line x1="118.92" y1="486.25" x2="118.92" y2="490.85" stroke="#3c3c3c" stroke-width="1.15"/>
<line x1="186.58" y1="486.25" x2="186.58" y2="490.85" stroke="#3c3c3c" stroke-width="1.15"/>
<line x1="254.25" y1="486.25" x2="254.25" y2="490.85" stroke="#3c3c3c" stroke-width="1.15"/>
<line x1="95.33" y1="470.50" x2="95.33" y2="471.25" stroke="#1c1c1c" stroke-width="1.1"/>
<line x1="93.23" y1="470.50" x2="97.43" y2="470.50" stroke="#1c1c1c" stroke-width="1.1"/>
<rect x="85.58" y="471.25" width="19.90" height="15.50" fill="#000"/>
<rect x="66.58" y="481.25" width="19.00" height="5.00" fill="#fff" stroke="#3c3c3c" stroke-width="1.1"/>
<line x1="75.83" y1="480.00" x2="75.83" y2="481.50" stroke="#3c3c3c" stroke-width="1.1"/>
<line x1="73.73" y1="480.00" x2="77.93" y2="480.00" stroke="#3c3c3c" stroke-width="1.1"/>
<line x1="73.73" y1="481.50" x2="77.93" y2="481.50" stroke="#3c3c3c" stroke-width="1.1"/>
<text x="85.08" y="498.60" font-size="10" text-anchor="middle" font-weight="normal">TF</text>
<line x1="163.00" y1="460.70" x2="163.00" y2="463.25" stroke="#1c1c1c" stroke-width="1.1"/>
<line x1="160.90" y1="460.70" x2="165.10" y2="460.70" stroke="#1c1c1c" stroke-width="1.1"/>
<rect x="153.25" y="463.25" width="19.90" height="23.50" fill="#000"/>
<rect x="134.25" y="471.00" width="19.00" height="15.25" fill="#fff" stroke="#3c3c3c" stroke-width="1.1"/>
<line x1="143.50" y1="469.40" x2="143.50" y2="471.60" stroke="#3c3c3c" stroke-width="1.1"/>
<line x1="141.40" y1="469.40" x2="145.60" y2="469.40" stroke="#3c3c3c" stroke-width="1.1"/>
<line x1="141.40" y1="471.60" x2="145.60" y2="471.60" stroke="#3c3c3c" stroke-width="1.1"/>
<text x="152.75" y="498.60" font-size="10" text-anchor="middle" font-weight="normal">M</text>
<line x1="230.67" y1="388.25" x2="230.67" y2="396.25" stroke="#1c1c1c" stroke-width="1.1"/>
<line x1="228.57" y1="388.25" x2="232.77" y2="388.25" stroke="#1c1c1c" stroke-width="1.1"/>
<rect x="220.92" y="396.25" width="19.90" height="90.50" fill="#000"/>
<rect x="201.92" y="436.25" width="19.00" height="50.00" fill="#fff" stroke="#3c3c3c" stroke-width="1.1"/>
<line x1="211.17" y1="431.50" x2="211.17" y2="440.00" stroke="#3c3c3c" stroke-width="1.1"/>
<line x1="209.07" y1="431.50" x2="213.27" y2="431.50" stroke="#3c3c3c" stroke-width="1.1"/>
<line x1="209.07" y1="440.00" x2="213.27" y2="440.00" stroke="#3c3c3c" stroke-width="1.1"/>
<text x="220.42" y="498.60" font-size="10" text-anchor="middle" font-weight="normal">CC</text>
<polygon points="95.50,460.65 96.23,462.44 98.16,462.58 96.69,463.84 97.15,465.72 95.50,464.70 93.85,465.72 94.31,463.84 92.84,462.58 94.77,462.44" fill="#000"/>
<polygon points="163.30,449.65 164.03,451.44 165.96,451.58 164.49,452.84 164.95,454.72 163.30,453.70 161.65,454.72 162.11,452.84 160.64,451.58 162.57,451.44" fill="#000"/>
<polygon points="228.23,378.65 228.96,380.44 230.89,380.58 229.41,381.84 229.87,383.72 228.23,382.70 226.58,383.72 227.04,381.84 225.56,380.58 227.49,380.44" fill="#000"/>
<polygon points="233.38,378.65 234.11,380.44 236.04,380.58 234.56,381.84 235.02,383.72 233.38,382.70 231.73,383.72 232.19,381.84 230.71,380.58 232.64,380.44" fill="#000"/>
<rect x="57.50" y="372.60" width="5.40" height="5.40" fill="#fff" stroke="#3c3c3c" stroke-width="0.9"/>
<text x="67.80" y="378.90" font-size="10.2" text-anchor="start" font-weight="normal">CT</text>
<rect x="57.20" y="388.90" width="6.00" height="6.00" fill="#000" stroke="#000" stroke-width="0.5"/>
<text x="67.50" y="395.80" font-size="10.4" text-anchor="start" font-weight="normal">suni</text>
<text x="9.00" y="429.20" font-size="10.15" text-anchor="middle" font-weight="normal" transform="rotate(-90 9.00 429.20)">VEGFC mRNA</text>
<text x="23.70" y="429.50" font-size="10.3" text-anchor="middle" font-weight="normal" transform="rotate(-90 23.70 429.50)">(% of control)</text>
<line x1="329.50" y1="371.70" x2="329.50" y2="486.75" stroke="#3c3c3c" stroke-width="1.15"/>
<line x1="326.90" y1="486.25" x2="329.50" y2="486.25" stroke="#3c3c3c" stroke-width="1.15"/>
<text x="323.80" y="489.55" font-size="9.1" text-anchor="end" font-weight="normal">0</text>
<line x1="326.90" y1="463.44" x2="329.50" y2="463.44" stroke="#3c3c3c" stroke-width="1.15"/>
<text x="323.80" y="466.74" font-size="9.1" text-anchor="end" font-weight="normal">500</text>
<line x1="326.90" y1="440.63" x2="329.50" y2="440.63" stroke="#3c3c3c" stroke-width="1.15"/>
<text x="323.80" y="443.93" font-size="9.1" text-anchor="end" font-weight="normal">1,000</text>
<line x1="326.90" y1="417.82" x2="329.50" y2="417.82" stroke="#3c3c3c" stroke-width="1.15"/>
<text x="323.80" y="421.12" font-size="9.1" text-anchor="end" font-weight="normal">1,500</text>
<line x1="326.90" y1="395.01" x2="329.50" y2="395.01" stroke="#3c3c3c" stroke-width="1.15"/>
<text x="323.80" y="398.31" font-size="9.1" text-anchor="end" font-weight="normal">2,000</text>
<line x1="326.90" y1="372.20" x2="329.50" y2="372.20" stroke="#3c3c3c" stroke-width="1.15"/>
<text x="323.80" y="375.50" font-size="9.1" text-anchor="end" font-weight="normal">2,500</text>
<line x1="326.90" y1="486.25" x2="515.40" y2="486.25" stroke="#3c3c3c" stroke-width="1.15"/>
<line x1="329.50" y1="486.25" x2="329.50" y2="490.85" stroke="#3c3c3c" stroke-width="1.15"/>
<line x1="391.47" y1="486.25" x2="391.47" y2="490.85" stroke="#3c3c3c" stroke-width="1.15"/>
<line x1="453.43" y1="486.25" x2="453.43" y2="490.85" stroke="#3c3c3c" stroke-width="1.15"/>
<line x1="515.40" y1="486.25" x2="515.40" y2="490.85" stroke="#3c3c3c" stroke-width="1.15"/>
<line x1="369.08" y1="467.20" x2="369.08" y2="472.90" stroke="#1c1c1c" stroke-width="1.1"/>
<line x1="366.98" y1="467.20" x2="371.18" y2="467.20" stroke="#1c1c1c" stroke-width="1.1"/>
<rect x="359.98" y="472.90" width="18.60" height="13.85" fill="#000"/>
<text x="358.88" y="499.00" font-size="10" text-anchor="middle" font-weight="normal">TF</text>
<line x1="431.45" y1="432.20" x2="431.45" y2="435.75" stroke="#1c1c1c" stroke-width="1.1"/>
<line x1="429.35" y1="432.20" x2="433.55" y2="432.20" stroke="#1c1c1c" stroke-width="1.1"/>
<rect x="422.35" y="435.75" width="18.60" height="51.00" fill="#000"/>
<rect x="404.65" y="454.10" width="17.70" height="32.15" fill="#fff" stroke="#3c3c3c" stroke-width="1.1"/>
<line x1="413.25" y1="452.70" x2="413.25" y2="454.60" stroke="#3c3c3c" stroke-width="1.1"/>
<line x1="411.15" y1="452.70" x2="415.35" y2="452.70" stroke="#3c3c3c" stroke-width="1.1"/>
<line x1="411.15" y1="454.60" x2="415.35" y2="454.60" stroke="#3c3c3c" stroke-width="1.1"/>
<text x="422.75" y="499.00" font-size="10" text-anchor="middle" font-weight="normal">M</text>
<line x1="493.82" y1="384.50" x2="493.82" y2="393.25" stroke="#1c1c1c" stroke-width="1.1"/>
<line x1="491.72" y1="384.50" x2="495.92" y2="384.50" stroke="#1c1c1c" stroke-width="1.1"/>
<rect x="484.72" y="393.25" width="18.60" height="93.50" fill="#000"/>
<rect x="467.02" y="433.50" width="17.70" height="52.75" fill="#fff" stroke="#3c3c3c" stroke-width="1.1"/>
<line x1="475.62" y1="428.00" x2="475.62" y2="438.00" stroke="#3c3c3c" stroke-width="1.1"/>
<line x1="473.52" y1="428.00" x2="477.72" y2="428.00" stroke="#3c3c3c" stroke-width="1.1"/>
<line x1="473.52" y1="438.00" x2="477.72" y2="438.00" stroke="#3c3c3c" stroke-width="1.1"/>
<text x="484.72" y="499.00" font-size="10" text-anchor="middle" font-weight="normal">CC</text>
<polygon points="368.80,456.15 369.53,457.94 371.46,458.08 369.99,459.34 370.45,461.22 368.80,460.20 367.15,461.22 367.61,459.34 366.14,458.08 368.07,457.94" fill="#000"/>
<polygon points="431.30,422.45 432.03,424.24 433.96,424.38 432.49,425.64 432.95,427.52 431.30,426.50 429.65,427.52 430.11,425.64 428.64,424.38 430.57,424.24" fill="#000"/>
<polygon points="491.23,375.95 491.96,377.74 493.89,377.88 492.41,379.14 492.87,381.02 491.23,380.00 489.58,381.02 490.04,379.14 488.56,377.88 490.49,377.74" fill="#000"/>
<polygon points="496.38,375.95 497.11,377.74 499.04,377.88 497.56,379.14 498.02,381.02 496.38,380.00 494.73,381.02 495.19,379.14 493.71,377.88 495.64,377.74" fill="#000"/>
<rect x="334.60" y="370.90" width="5.90" height="5.90" fill="#fff" stroke="#3c3c3c" stroke-width="0.9"/>
<text x="343.20" y="377.20" font-size="10.4" text-anchor="start" font-weight="normal">CT</text>
<rect x="334.40" y="387.50" width="6.20" height="6.20" fill="#000" stroke="#000" stroke-width="0.5"/>
<text x="343.30" y="393.50" font-size="10.3" text-anchor="start" font-weight="normal">suni</text>
<text x="293.20" y="427.80" font-size="10.45" text-anchor="middle" font-weight="normal" transform="rotate(-90 293.20 427.80)">VEGFC (% of control)</text>
<line x1="51.25" y1="513.75" x2="51.25" y2="636.25" stroke="#3c3c3c" stroke-width="1.15"/>
<line x1="48.65" y1="635.75" x2="51.25" y2="635.75" stroke="#3c3c3c" stroke-width="1.15"/>
<text x="46.10" y="639.05" font-size="8.6" text-anchor="end" font-weight="normal">0</text>
<line x1="48.65" y1="615.50" x2="51.25" y2="615.50" stroke="#3c3c3c" stroke-width="1.15"/>
<text x="46.10" y="618.80" font-size="8.6" text-anchor="end" font-weight="normal">20</text>
<line x1="48.65" y1="595.25" x2="51.25" y2="595.25" stroke="#3c3c3c" stroke-width="1.15"/>
<text x="46.10" y="598.55" font-size="8.6" text-anchor="end" font-weight="normal">40</text>
<line x1="48.65" y1="575.00" x2="51.25" y2="575.00" stroke="#3c3c3c" stroke-width="1.15"/>
<text x="46.10" y="578.30" font-size="8.6" text-anchor="end" font-weight="normal">60</text>
<line x1="48.65" y1="554.75" x2="51.25" y2="554.75" stroke="#3c3c3c" stroke-width="1.15"/>
<text x="46.10" y="558.05" font-size="8.6" text-anchor="end" font-weight="normal">80</text>
<line x1="48.65" y1="534.50" x2="51.25" y2="534.50" stroke="#3c3c3c" stroke-width="1.15"/>
<text x="46.10" y="537.80" font-size="8.6" text-anchor="end" font-weight="normal">100</text>
<line x1="48.65" y1="514.25" x2="51.25" y2="514.25" stroke="#3c3c3c" stroke-width="1.15"/>
<text x="46.10" y="517.55" font-size="8.6" text-anchor="end" font-weight="normal">120</text>
<line x1="48.65" y1="635.75" x2="259.60" y2="635.75" stroke="#3c3c3c" stroke-width="1.15"/>
<line x1="51.25" y1="635.75" x2="51.25" y2="639.15" stroke="#3c3c3c" stroke-width="1.15"/>
<line x1="121.30" y1="635.75" x2="121.30" y2="639.15" stroke="#3c3c3c" stroke-width="1.15"/>
<line x1="190.60" y1="635.75" x2="190.60" y2="639.15" stroke="#3c3c3c" stroke-width="1.15"/>
<line x1="259.60" y1="635.75" x2="259.60" y2="639.15" stroke="#3c3c3c" stroke-width="1.15"/>
<line x1="96.38" y1="543.50" x2="96.38" y2="550.75" stroke="#1c1c1c" stroke-width="1.1"/>
<line x1="94.28" y1="543.50" x2="98.47" y2="543.50" stroke="#1c1c1c" stroke-width="1.1"/>
<rect x="86.38" y="550.75" width="20.40" height="85.50" fill="#000"/>
<rect x="66.88" y="534.75" width="19.50" height="101.00" fill="#fff" stroke="#3c3c3c" stroke-width="1.1"/>
<line x1="76.38" y1="527.80" x2="76.38" y2="542.00" stroke="#3c3c3c" stroke-width="1.1"/>
<line x1="74.28" y1="527.80" x2="78.47" y2="527.80" stroke="#3c3c3c" stroke-width="1.1"/>
<line x1="74.28" y1="542.00" x2="78.47" y2="542.00" stroke="#3c3c3c" stroke-width="1.1"/>
<text x="86.67" y="648.60" font-size="10" text-anchor="middle" font-weight="normal">14S</text>
<line x1="165.83" y1="535.75" x2="165.83" y2="550.00" stroke="#1c1c1c" stroke-width="1.1"/>
<line x1="163.73" y1="535.75" x2="167.93" y2="535.75" stroke="#1c1c1c" stroke-width="1.1"/>
<rect x="155.83" y="550.00" width="20.40" height="86.25" fill="#000"/>
<rect x="136.33" y="535.00" width="19.50" height="100.75" fill="#fff" stroke="#3c3c3c" stroke-width="1.1"/>
<line x1="145.83" y1="532.60" x2="145.83" y2="536.40" stroke="#3c3c3c" stroke-width="1.1"/>
<line x1="143.73" y1="532.60" x2="147.93" y2="532.60" stroke="#3c3c3c" stroke-width="1.1"/>
<line x1="143.73" y1="536.40" x2="147.93" y2="536.40" stroke="#3c3c3c" stroke-width="1.1"/>
<text x="156.12" y="648.60" font-size="10" text-anchor="middle" font-weight="normal">15S</text>
<line x1="235.97" y1="526.75" x2="235.97" y2="530.00" stroke="#1c1c1c" stroke-width="1.1"/>
<line x1="233.88" y1="526.75" x2="238.07" y2="526.75" stroke="#1c1c1c" stroke-width="1.1"/>
<rect x="225.97" y="530.00" width="20.40" height="106.25" fill="#000"/>
<rect x="206.47" y="535.00" width="19.50" height="100.75" fill="#fff" stroke="#3c3c3c" stroke-width="1.1"/>
<line x1="215.97" y1="531.50" x2="215.97" y2="537.80" stroke="#3c3c3c" stroke-width="1.1"/>
<line x1="213.88" y1="531.50" x2="218.07" y2="531.50" stroke="#3c3c3c" stroke-width="1.1"/>
<line x1="213.88" y1="537.80" x2="218.07" y2="537.80" stroke="#3c3c3c" stroke-width="1.1"/>
<text x="225.57" y="648.60" font-size="10" text-anchor="middle" font-weight="normal">18S</text>
<rect x="55.70" y="514.80" width="6.00" height="6.00" fill="#fff" stroke="#3c3c3c" stroke-width="0.9"/>
<text x="64.20" y="521.40" font-size="10.4" text-anchor="start" font-weight="normal">CT</text>
<rect x="94.60" y="514.70" width="6.40" height="6.40" fill="#000" stroke="#000" stroke-width="0.5"/>
<text x="102.40" y="521.40" font-size="10.3" text-anchor="start" font-weight="normal">suni</text>
<text x="9.30" y="575.50" font-size="10.3" text-anchor="middle" font-weight="normal" transform="rotate(-90 9.30 575.50)">VEGFC mRNA</text>
<text x="24.80" y="575.50" font-size="10.3" text-anchor="middle" font-weight="normal" transform="rotate(-90 24.80 575.50)">(% of control)</text>
<text x="155.60" y="662.30" font-size="10.2" text-anchor="middle" font-weight="normal">Normal cells</text>
<line x1="329.30" y1="517.00" x2="329.30" y2="635.60" stroke="#3c3c3c" stroke-width="1.15"/>
<line x1="326.70" y1="635.10" x2="329.30" y2="635.10" stroke="#3c3c3c" stroke-width="1.15"/>
<text x="323.80" y="638.40" font-size="8.5" text-anchor="end" font-weight="normal">0</text>
<line x1="326.70" y1="615.50" x2="329.30" y2="615.50" stroke="#3c3c3c" stroke-width="1.15"/>
<text x="323.80" y="618.80" font-size="8.5" text-anchor="end" font-weight="normal">20</text>
<line x1="326.70" y1="595.90" x2="329.30" y2="595.90" stroke="#3c3c3c" stroke-width="1.15"/>
<text x="323.80" y="599.20" font-size="8.5" text-anchor="end" font-weight="normal">40</text>
<line x1="326.70" y1="576.30" x2="329.30" y2="576.30" stroke="#3c3c3c" stroke-width="1.15"/>
<text x="323.80" y="579.60" font-size="8.5" text-anchor="end" font-weight="normal">60</text>
<line x1="326.70" y1="556.70" x2="329.30" y2="556.70" stroke="#3c3c3c" stroke-width="1.15"/>
<text x="323.80" y="560.00" font-size="8.5" text-anchor="end" font-weight="normal">80</text>
<line x1="326.70" y1="537.10" x2="329.30" y2="537.10" stroke="#3c3c3c" stroke-width="1.15"/>
<text x="323.80" y="540.40" font-size="8.5" text-anchor="end" font-weight="normal">100</text>
<line x1="326.70" y1="517.50" x2="329.30" y2="517.50" stroke="#3c3c3c" stroke-width="1.15"/>
<text x="323.80" y="520.80" font-size="8.5" text-anchor="end" font-weight="normal">120</text>
<line x1="326.70" y1="635.10" x2="514.50" y2="635.10" stroke="#3c3c3c" stroke-width="1.15"/>
<line x1="329.30" y1="635.10" x2="329.30" y2="638.50" stroke="#3c3c3c" stroke-width="1.15"/>
<line x1="391.03" y1="635.10" x2="391.03" y2="638.50" stroke="#3c3c3c" stroke-width="1.15"/>
<line x1="452.77" y1="635.10" x2="452.77" y2="638.50" stroke="#3c3c3c" stroke-width="1.15"/>
<line x1="514.50" y1="635.10" x2="514.50" y2="638.50" stroke="#3c3c3c" stroke-width="1.15"/>
<line x1="369.62" y1="554.25" x2="369.62" y2="567.50" stroke="#1c1c1c" stroke-width="1.1"/>
<line x1="367.52" y1="554.25" x2="371.72" y2="554.25" stroke="#1c1c1c" stroke-width="1.1"/>
<rect x="360.67" y="567.50" width="18.30" height="68.10" fill="#000"/>
<rect x="343.27" y="537.25" width="17.40" height="97.85" fill="#fff" stroke="#3c3c3c" stroke-width="1.1"/>
<line x1="351.72" y1="527.00" x2="351.72" y2="546.25" stroke="#3c3c3c" stroke-width="1.1"/>
<line x1="349.62" y1="527.00" x2="353.82" y2="527.00" stroke="#3c3c3c" stroke-width="1.1"/>
<line x1="349.62" y1="546.25" x2="353.82" y2="546.25" stroke="#3c3c3c" stroke-width="1.1"/>
<text x="360.87" y="648.50" font-size="10" text-anchor="middle" font-weight="normal">14S</text>
<line x1="431.65" y1="543.75" x2="431.65" y2="558.75" stroke="#1c1c1c" stroke-width="1.1"/>
<line x1="429.55" y1="543.75" x2="433.75" y2="543.75" stroke="#1c1c1c" stroke-width="1.1"/>
<rect x="422.70" y="558.75" width="18.30" height="76.85" fill="#000"/>
<rect x="405.30" y="537.25" width="17.40" height="97.85" fill="#fff" stroke="#3c3c3c" stroke-width="1.1"/>
<line x1="413.75" y1="527.00" x2="413.75" y2="546.25" stroke="#3c3c3c" stroke-width="1.1"/>
<line x1="411.65" y1="527.00" x2="415.85" y2="527.00" stroke="#3c3c3c" stroke-width="1.1"/>
<line x1="411.65" y1="546.25" x2="415.85" y2="546.25" stroke="#3c3c3c" stroke-width="1.1"/>
<text x="422.60" y="648.50" font-size="10" text-anchor="middle" font-weight="normal">15S</text>
<line x1="493.58" y1="551.25" x2="493.58" y2="565.00" stroke="#1c1c1c" stroke-width="1.1"/>
<line x1="491.48" y1="551.25" x2="495.68" y2="551.25" stroke="#1c1c1c" stroke-width="1.1"/>
<rect x="484.63" y="565.00" width="18.30" height="70.60" fill="#000"/>
<rect x="467.23" y="537.25" width="17.40" height="97.85" fill="#fff" stroke="#3c3c3c" stroke-width="1.1"/>
<line x1="475.68" y1="527.00" x2="475.68" y2="546.25" stroke="#3c3c3c" stroke-width="1.1"/>
<line x1="473.58" y1="527.00" x2="477.78" y2="527.00" stroke="#3c3c3c" stroke-width="1.1"/>
<line x1="473.58" y1="546.25" x2="477.78" y2="546.25" stroke="#3c3c3c" stroke-width="1.1"/>
<text x="484.33" y="648.50" font-size="10" text-anchor="middle" font-weight="normal">18S</text>
<rect x="336.40" y="515.90" width="6.00" height="6.00" fill="#fff" stroke="#3c3c3c" stroke-width="0.9"/>
<text x="345.00" y="522.10" font-size="10.5" text-anchor="start" font-weight="normal">CT</text>
<rect x="369.40" y="516.20" width="5.80" height="5.80" fill="#000" stroke="#000" stroke-width="0.5"/>
<text x="377.40" y="522.10" font-size="9.9" text-anchor="start" font-weight="normal">suni</text>
<text x="300.50" y="575.00" font-size="10.3" text-anchor="middle" font-weight="normal" transform="rotate(-90 300.50 575.00)">VEGFC (% of control)</text>
<text x="423.00" y="661.80" font-size="10.2" text-anchor="middle" font-weight="normal">Normal cells</text>
</g>
</svg>
</body></html>
